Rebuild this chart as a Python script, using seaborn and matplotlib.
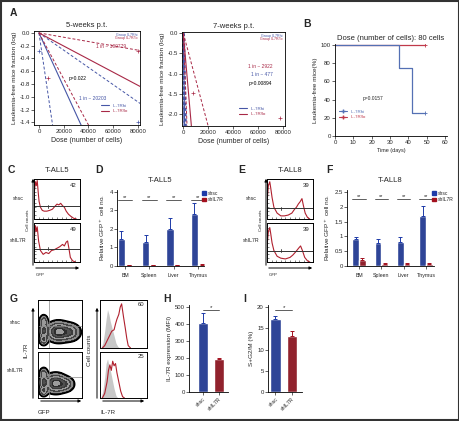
import numpy as np
import pandas as pd
import seaborn as sns
import matplotlib.pyplot as plt
from matplotlib.patches import Rectangle, FancyArrowPatch
from matplotlib.lines import Line2D
from matplotlib.patches import Patch

sns.set_theme(style="ticks")
plt.rcParams['font.family'] = ['Liberation Sans', 'DejaVu Sans']

# ---------------- data ----------------
# A: ELDA lines, end points (dose, log fraction) for estimate / CI-low / CI-high
a5_hi_dose = [34000, 11000, 80000]
a5_hi_log = [-1.44, -1.44, -1.08]
a5_lo_dose = [80000, 40000, 80000]
a5_lo_log = [-0.82, -1.44, -0.27]
a5_hi_pts_dose = [0, 80000]
a5_hi_pts_log = [-0.29, -1.40]
a5_lo_pts_dose = [7000, 80000]
a5_lo_pts_log = [-0.70, -0.29]

a7_hi_dose = [1100, 400, 1500]
a7_hi_log = [-2.29, -2.29, -2.29]
a7_lo_dose = [6500, 3000, 20000]
a7_lo_log = [-2.29, -2.29, -2.29]
a7_lo_pts_dose = [7600, 78000]
a7_lo_pts_log = [-1.48, -2.10]

# B: survival
b_hi_days = [0, 35, 35, 42, 42, 49]
b_hi_pct = [100, 100, 75, 75, 25, 25]
b_lo_days = [0, 49]
b_lo_pct = [100, 100]

# D / F: relative GFP+ cell number
tissues = ["BM", "Spleen", "Liver", "Thymus"]
d_shsc = [1.45, 1.30, 2.00, 2.80]
d_shsc_err = [0.42, 0.35, 0.57, 0.60]
d_shil = [0.04, 0.03, 0.03, 0.08]
d_shil_err = [0.01, 0.01, 0.01, 0.02]
f_shsc = [0.92, 0.77, 0.82, 1.70]
f_shsc_err = [0.07, 0.13, 0.15, 0.33]
f_shil = [0.20, 0.08, 0.08, 0.08]
f_shil_err = [0.08, 0.03, 0.01, 0.02]

# H / I
conds = ["shsc", "shIL7R"]
h_vals = [408, 195]
h_err = [58, 8]
i_vals = [17.1, 13.1]
i_err = [0.9, 1.2]

# flow histograms (fraction of box)
c_top_x = [0.0, 0.03, 0.05, 0.07, 0.09, 0.11, 0.14, 0.18, 0.22, 0.28, 0.34, 0.40, 0.46, 0.50, 0.54, 0.58, 0.62, 0.66, 0.70, 0.75, 0.80, 0.86, 0.92]
c_top_y = [0.60, 0.95, 0.85, 0.98, 0.70, 0.45, 0.30, 0.22, 0.20, 0.20, 0.22, 0.25, 0.33, 0.38, 0.36, 0.40, 0.34, 0.30, 0.20, 0.12, 0.07, 0.02, 0.0]
c_bot_x = [0.0, 0.03, 0.05, 0.07, 0.10, 0.14, 0.20, 0.26, 0.32, 0.38, 0.44, 0.50, 0.56, 0.62, 0.66, 0.70, 0.73, 0.76, 0.79, 0.84, 0.90]
c_bot_y = [0.55, 0.95, 0.80, 0.92, 0.55, 0.30, 0.20, 0.25, 0.22, 0.30, 0.32, 0.36, 0.40, 0.46, 0.42, 0.52, 0.55, 0.35, 0.12, 0.03, 0.0]
e_top_x = [0.0, 0.03, 0.06, 0.08, 0.11, 0.15, 0.22, 0.30, 0.38, 0.46, 0.54, 0.60, 0.64, 0.68, 0.72, 0.76, 0.79, 0.83, 0.88, 0.93]
e_top_y = [0.40, 0.85, 0.95, 0.80, 0.55, 0.30, 0.15, 0.08, 0.08, 0.10, 0.15, 0.25, 0.30, 0.38, 0.44, 0.52, 0.35, 0.15, 0.04, 0.0]
e_bot_x = [0.0, 0.03, 0.06, 0.08, 0.11, 0.15, 0.22, 0.30, 0.40, 0.50, 0.56, 0.62, 0.66, 0.70, 0.73, 0.77, 0.82, 0.88, 0.93]
e_bot_y = [0.40, 0.80, 0.90, 0.75, 0.50, 0.30, 0.15, 0.10, 0.08, 0.12, 0.18, 0.26, 0.32, 0.38, 0.42, 0.30, 0.12, 0.03, 0.0]
g_top_iso_x = [0.02, 0.06, 0.10, 0.13, 0.16, 0.19, 0.22, 0.26, 0.30, 0.34, 0.38, 0.42]
g_top_iso_y = [0.0, 0.10, 0.35, 0.60, 0.80, 0.70, 0.55, 0.40, 0.25, 0.10, 0.03, 0.0]
g_top_x = [0.05, 0.10, 0.15, 0.20, 0.25, 0.30, 0.33, 0.36, 0.40, 0.43, 0.46, 0.50, 0.54, 0.57, 0.60, 0.65]
g_top_y = [0.0, 0.05, 0.15, 0.25, 0.35, 0.38, 0.50, 0.60, 0.70, 0.85, 0.92, 0.65, 0.40, 0.20, 0.05, 0.0]
g_bot_iso_x = [0.02, 0.06, 0.10, 0.13, 0.16, 0.19, 0.22, 0.26, 0.30, 0.34, 0.38]
g_bot_iso_y = [0.0, 0.15, 0.45, 0.75, 0.85, 0.70, 0.60, 0.40, 0.20, 0.05, 0.0]
g_bot_x = [0.05, 0.10, 0.15, 0.18, 0.21, 0.24, 0.27, 0.30, 0.33, 0.36, 0.40, 0.44, 0.48, 0.52]
g_bot_y = [0.0, 0.10, 0.35, 0.60, 0.72, 0.60, 0.80, 0.70, 0.75, 0.55, 0.35, 0.15, 0.03, 0.0]

# G contour blobs: (cx, cy, sx, sy, weight)
g_top_blobs = [(0.46, 0.34, 0.13, 0.10, 1.0), (0.72, 0.33, 0.12, 0.09, 0.55),
               (0.13, 0.18, 0.05, 0.06, 0.5), (0.13, 0.36, 0.05, 0.07, 0.6), (0.13, 0.55, 0.05, 0.07, 0.4)]
g_bot_blobs = [(0.40, 0.32, 0.12, 0.10, 1.0), (0.62, 0.30, 0.10, 0.08, 0.45),
               (0.13, 0.16, 0.05, 0.06, 0.5), (0.13, 0.34, 0.05, 0.07, 0.6), (0.13, 0.52, 0.05, 0.07, 0.4)]

BLUE = "#4656a6"
RED = "#a82846"
B_BLUE = "#5470b4"
B_RED = "#c0394a"
BAR_BLUE = "#1d3aa8"
BAR_RED = "#a3101e"
HIST_RED = "#b0202e"

W, H = 460, 421
fig = plt.figure(figsize=(4.6, 4.21), dpi=100)


def box(l, t, r, b):
    return fig.add_axes([l / W, 1 - b / H, (r - l) / W, (b - t) / H])


def ftext(x, y, s, **kw):
    fig.text(x / W, 1 - y / H, s, **kw)


def arrow(x0, y0, x1, y1):
    fig.add_artist(FancyArrowPatch((x0 / W, 1 - y0 / H), (x1 / W, 1 - y1 / H),
                                   transform=fig.transFigure, arrowstyle='-|>',
                                   mutation_scale=4, lw=0.7, color='black'))


def style(ax, full=False):
    ax.tick_params(labelsize=4.3, length=2, width=0.5, pad=1)
    for s in ax.spines.values():
        s.set_linewidth(0.6)
        s.set_color('black')
    if not full:
        sns.despine(ax=ax)


def elda(ax, doses, logs, color):
    xs = np.array([0, 90000])
    for k, (d, v) in enumerate(zip(doses, logs)):
        ax.plot(xs, xs * v / d, color=color, lw=0.8 if k == 0 else 0.7,
                ls='-' if k == 0 else (0, (3, 2)))


# frame
fig.add_artist(Rectangle((0.002, 0.002), 0.996, 0.996, transform=fig.transFigure,
                         fill=False, lw=1.5, ec='#333333'))

# ---------------- A ----------------
ftext(10, 13, "A", fontsize=7.5, weight='bold', va='center')
ax = box(34, 31, 140, 125)
elda(ax, a5_hi_dose, a5_hi_log, BLUE)
elda(ax, a5_lo_dose, a5_lo_log, RED)
ax.plot(a5_hi_pts_dose, a5_hi_pts_log, ls='none', marker='+', ms=2.5, color=BLUE, mew=0.5)
ax.plot(a5_lo_pts_dose, a5_lo_pts_log, ls='none', marker='+', ms=2.5, color=RED, mew=0.5)
ax.set_xlim(-4000, 81600)
ax.set_ylim(-1.44, 0.03)
ax.set_xticks([0, 20000, 40000, 60000, 80000])
yt = np.round(np.arange(0, -1.41, -0.2), 1)
ax.set_yticks(yt)
ax.set_yticklabels([f"{v:.1f}" for v in yt])
style(ax, full=True)
ax.set_title("5-weeks p.t.", fontsize=5.5, pad=3)
ax.set_xlabel("Dose (number of cells)", fontsize=5, labelpad=2)
ax.set_ylabel("Leukemia-free mice fraction (log)", fontsize=4.6, labelpad=2)
ax.text(0.98, 0.98, "Group IL7Rhi", color=BLUE, fontsize=2.6, ha='right', va='top', transform=ax.transAxes)
ax.text(0.98, 0.945, "Group IL7R/lo", color=RED, fontsize=2.6, ha='right', va='top', transform=ax.transAxes)
ax.text(58000, -0.21, "1 in ~ 100779", color=RED, fontsize=3.5, ha='center', va='center')
ax.text(31500, -0.72, "p=0.022", color='black', fontsize=3.5, ha='center', va='center')
ax.text(43000, -1.03, "1 in ~ 20203", color=BLUE, fontsize=3.5, ha='center', va='center')
ax.legend(handles=[Line2D([], [], color=BLUE, lw=0.8, label="IL-7Rhi"),
                   Line2D([], [], color=RED, lw=0.8, label="IL-7R/lo")],
          loc='lower right', bbox_to_anchor=(0.92, 0.08), fontsize=3.2, frameon=False,
          handlelength=1.8, labelspacing=0.3, labelcolor=[BLUE, RED])

ax = box(182, 32, 285, 126)
elda(ax, a7_hi_dose[:2], a7_hi_log[:2], BLUE)
ax.plot([0, a7_hi_dose[2]], [0, a7_hi_log[2]], color=BLUE, lw=2.4, ls=(0, (0.9, 0.7)))
elda(ax, a7_lo_dose, a7_lo_log, RED)
ax.plot(a7_lo_pts_dose, a7_lo_pts_log, ls='none', marker='+', ms=2.5, color=RED, mew=0.5)
ax.set_xlim(-1050, 81850)
ax.set_ylim(-2.29, 0.03)
ax.set_xticks([0, 20000, 40000, 60000, 80000])
ax.set_yticks([0, -0.5, -1, -1.5, -2])
ax.set_yticklabels(["0.0", "-0.5", "-1.0", "-1.5", "-2.0"])
style(ax, full=True)
ax.set_title("7-weeks p.t.", fontsize=5.5, pad=3)
ax.set_xlabel("Dose (number of cells)", fontsize=5, labelpad=2)
ax.set_ylabel("Leukemia-free mice fraction (log)", fontsize=4.6, labelpad=2)
ax.text(0.98, 0.98, "Group IL7Rhi", color=BLUE, fontsize=2.6, ha='right', va='top', transform=ax.transAxes)
ax.text(0.98, 0.945, "Group IL7R/lo", color=RED, fontsize=2.6, ha='right', va='top', transform=ax.transAxes)
ax.text(62000, -0.82, "1 in ~ 2922", color=RED, fontsize=3.5, ha='center', va='center')
ax.text(63000, -1.03, "1 in ~ 477", color=BLUE, fontsize=3.5, ha='center', va='center')
ax.text(62000, -1.23, "p=0.00894", color='black', fontsize=3.5, ha='center', va='center')
ax.legend(handles=[Line2D([], [], color=BLUE, lw=0.8, label="IL-7Rhi"),
                   Line2D([], [], color=RED, lw=0.8, label="IL-7R/lo")],
          loc='lower right', bbox_to_anchor=(0.85, 0.06), fontsize=3.2, frameon=False,
          handlelength=1.8, labelspacing=0.3, labelcolor=[BLUE, RED])

# ---------------- B ----------------
ftext(303, 24, "B", fontsize=7.5, weight='bold', va='center')
ax = box(335, 44, 447, 136)
sns.lineplot(x=b_lo_days, y=b_lo_pct, ax=ax, color=B_RED, lw=0.9, estimator=None, sort=False)
sns.lineplot(x=b_hi_days, y=b_hi_pct, ax=ax, color=B_BLUE, lw=0.9, estimator=None, sort=False)
ax.plot(b_hi_days[-1:], b_hi_pct[-1:], marker='+', ms=2.5, mew=0.6, color=B_BLUE)
ax.plot(b_lo_days[-1:], b_lo_pct[-1:], marker='+', ms=2.5, mew=0.6, color=B_RED)
ax.set_xlim(0, 61)
ax.set_ylim(0, 101)
ax.set_xticks(range(0, 61, 10))
ax.set_yticks(range(0, 101, 20))
style(ax)
ax.set_title("Dose (number of cells): 80 cells", fontsize=5.5, pad=3)
ax.set_xlabel("Time (days)", fontsize=4, labelpad=2)
ax.set_ylabel("Leukemia-free mice(%)", fontsize=4.6, labelpad=2)
ax.text(15, 41, "p=0.0157", fontsize=3.5, va='center')
ax.legend(handles=[Line2D([], [], color=B_BLUE, lw=0.8, marker='+', ms=2.5, label="IL-7Rhi"),
                   Line2D([], [], color=B_RED, lw=0.8, marker='+', ms=2.5, label="IL-7R/lo")],
          loc='lower left', bbox_to_anchor=(0.0, 0.14), fontsize=3.2, frameon=False,
          handlelength=1.8, labelspacing=0.3, labelcolor=[B_BLUE, B_RED])


# ---------------- histograms C / E ----------------
def hist_box(l, t, r, b, xs, ys, gate, num):
    a = box(l, t, r, b)
    a.plot(xs, ys, color=HIST_RED, lw=0.8)
    a.axhline(gate, color='#333333', lw=0.7)
    a.plot([0.3, 0.3], [gate - 0.04, gate + 0.04], color='#333333', lw=0.6)
    a.set_xlim(0, 1)
    a.set_ylim(0, 1.02)
    a.set_xticks(np.linspace(0.1, 0.9, 9))
    a.set_yticks(np.linspace(0.1, 0.9, 9))
    a.tick_params(direction='in', length=1.2, width=0.4, labelbottom=False, labelleft=False)
    for s in a.spines.values():
        s.set_linewidth(0.7)
        s.set_color('black')
    a.text(0.93, 0.9, num, fontsize=4.3, ha='right', va='top', transform=a.transAxes)
    return a


for (x0, lab, title, tops, bots, letter_x, name2) in [
        (34, "C", "T-ALL5", (c_top_x, c_top_y, 0.32, "42"), (c_bot_x, c_bot_y, 0.35, "49"), 8, "shIL7R"),
        (267, "E", "T-ALL8", (e_top_x, e_top_y, 0.27, "39"), (e_bot_x, e_bot_y, 0.30, "39"), 238, "shIL7R")]:
    ftext(letter_x, 170, lab, fontsize=7.5, weight='bold', va='center')
    ftext(x0 + 23, 170, title, fontsize=5.5, ha='center', va='center')
    hist_box(x0, 179, x0 + 46, 219, *tops)
    hist_box(x0, 223, x0 + 46, 262, *bots)
    arrow(x0 - 1, 268, x0 - 1, 176)
    arrow(x0 - 1, 268, x0 + 48, 268)
    ftext(x0 - 6, 220, "Cell counts", fontsize=3.2, rotation=90, ha='center', va='center')
    ftext(x0 + 2, 275, "GFP", fontsize=3.2, va='center')
    ftext(x0 - 16, 198, "shsc", fontsize=3.8, ha='center', va='center')
    ftext(x0 - 16, 240, name2, fontsize=3.8, ha='center', va='center')


# ---------------- bars D / F ----------------
def add_err(ax, xs, ys, es, color):
    ax.errorbar(xs, ys, yerr=[np.zeros(len(es)), es], fmt='none', ecolor=color,
                elinewidth=0.7, capsize=1.5, capthick=0.7)


def group_bars(rect, title, shsc, shsc_err, shil, shil_err, ylim, yticks, ylabels, sig_y, xlim, letter):
    ax = box(*rect)
    df = pd.DataFrame({"tissue": tissues * 2,
                       "group": ["shsc"] * 4 + ["shIL7R"] * 4,
                       "value": shsc + shil})
    sns.barplot(data=df, x="tissue", y="value", hue="group", ax=ax,
                palette=[BAR_BLUE, BAR_RED], width=0.6, gap=0, errorbar=None, legend=False)
    pts = ax.patches
    xb = [p.get_x() + p.get_width() / 2 for p in pts[:4]]
    xr = [p.get_x() + p.get_width() / 2 for p in pts[4:8]]
    add_err(ax, xb, shsc, shsc_err, BAR_BLUE)
    add_err(ax, xr, shil, shil_err, BAR_RED)
    for k in range(4):
        ax.plot([k - 0.3, k + 0.3], [sig_y, sig_y], color='#444444', lw=0.6)
        ax.text(k, sig_y, "**", fontsize=4, ha='center', va='bottom')
    ax.set_ylim(*ylim)
    ax.set_xlim(*xlim)
    ax.set_yticks(yticks)
    ax.set_yticklabels(ylabels)
    style(ax)
    ax.set_xlabel("")
    ax.set_xticklabels(tissues, fontsize=3.8)
    ax.tick_params(axis='x', pad=3)
    ax.set_ylabel("Relative GFP$^+$ cell no.", fontsize=4.6, labelpad=2)
    ax.set_title(title, fontsize=5.5, pad=6)
    ax.legend(handles=[Patch(color=BAR_BLUE, label="shsc"), Patch(color=BAR_RED, label="shIL7R")],
              loc='upper left', bbox_to_anchor=(0.93, 1.05), fontsize=3.6, frameon=False,
              handlelength=0.7, handleheight=0.7, handletextpad=0.4, labelspacing=0.3)
    ftext(letter[1], 170, letter[0], fontsize=7.5, weight='bold', va='center')
    return ax


group_bars((117, 190, 204, 266), "T-ALL5", d_shsc, d_shsc_err, d_shil, d_shil_err,
           (0, 4.1), [0, 1, 2, 3, 4], ["0", "1", "2", "3", "4"], 3.55, (-0.33, 3.25), ("D", 95))
group_bars((347, 190, 434, 266), "T-ALL8", f_shsc, f_shsc_err, f_shil, f_shil_err,
           (0, 2.57), [0, 0.5, 1, 1.5, 2, 2.5], ["0", "0.5", "1", "1.5", "2", "2.5"], 2.28,
           (-0.54, 3.36), ("F", 326))

# ---------------- G ----------------
ftext(10, 299, "G", fontsize=7.5, weight='bold', va='center')
gx, gy = np.meshgrid(np.linspace(0, 1, 160), np.linspace(0, 1, 160))


def contour_box(l, t, r, b, blobs):
    a = box(l, t, r, b)
    z = np.zeros_like(gx)
    for cx, cy, sx, sy, w in blobs:
        z += w * np.exp(-((gx - cx) ** 2 / (2 * sx ** 2) + (gy - cy) ** 2 / (2 * sy ** 2)))
    lv = [0.05, 0.12, 0.22, 0.35, 0.5, 0.65, 0.8, 0.95, 1.1, 5]
    fills = ['#3a3a3a', '#8a8a8a', '#454545', '#9a9a9a', '#3c3c3c', '#505050',
             '#2e2e2e', '#9c9c9c', '#ffffff']
    a.contourf(gx, gy, z, levels=lv, colors=fills)
    a.contour(gx, gy, z, levels=lv[:1], colors='black', linewidths=1.3)
    a.axvline(0.24, color='#888888', lw=0.5)
    a.axhline(0.45, color='#888888', lw=0.5)
    a.set_xlim(0, 1)
    a.set_ylim(0, 1)
    a.set_xticks([])
    a.set_yticks([])
    for s in a.spines.values():
        s.set_linewidth(0.7)
        s.set_color('black')


contour_box(38, 300, 82, 348, g_top_blobs)
contour_box(38, 352, 82, 398, g_bot_blobs)
arrow(33, 401, 33, 305)
arrow(38, 401, 84, 401)
ftext(26, 350, "IL-7R", fontsize=4.6, rotation=90, ha='center', va='center')
ftext(38, 412, "GFP", fontsize=4.4, va='center')
ftext(15, 323, "shsc", fontsize=3.8, ha='center', va='center')
ftext(15, 370, "shIL7R", fontsize=3.8, ha='center', va='center')


def iso_box(l, t, r, b, ix, iy, xs, ys, num):
    a = box(l, t, r, b)
    a.fill_between(ix, iy, color='#c8c8c8', lw=0)
    a.plot(xs, ys, color=HIST_RED, lw=0.8)
    a.set_xlim(0, 1)
    a.set_ylim(0, 1)
    a.set_xticks([])
    a.set_yticks([])
    for s in a.spines.values():
        s.set_linewidth(0.7)
        s.set_color('black')
    a.text(0.95, 0.95, num, fontsize=4.3, ha='right', va='top', transform=a.transAxes)


iso_box(100, 300, 147, 348, g_top_iso_x, g_top_iso_y, g_top_x, g_top_y, "60")
iso_box(100, 352, 147, 398, g_bot_iso_x, g_bot_iso_y, g_bot_x, g_bot_y, "25")
arrow(97, 401, 97, 305)
arrow(100, 401, 147, 401)
ftext(90, 350, "Cell counts", fontsize=4.6, rotation=90, ha='center', va='center')
ftext(100, 412, "IL-7R", fontsize=4.4, va='center')


# ---------------- H / I ----------------
def pair_bars(rect, vals, errs, ylim, yticks, sig_y, star, xlim, ylabel, letter):
    ax = box(*rect)
    sns.barplot(x=conds, y=vals, hue=conds, palette=[BAR_BLUE, BAR_RED], ax=ax,
                width=0.65, errorbar=None, legend=False)
    xs = [p.get_x() + p.get_width() / 2 for p in ax.patches[:2]]
    add_err(ax, xs[:1], vals[:1], errs[:1], BAR_BLUE)
    add_err(ax, xs[1:], vals[1:], errs[1:], BAR_RED)
    ax.plot([0, 1], [sig_y, sig_y], color='#444444', lw=0.6)
    ax.text(0.5, sig_y, star, fontsize=4.5, ha='center', va='bottom')
    ax.set_ylim(*ylim)
    ax.set_xlim(*xlim)
    ax.set_yticks(yticks)
    style(ax)
    ax.set_xticks([0, 1])
    ax.set_xticklabels(conds, rotation=45, ha='right', rotation_mode='anchor', fontsize=3.8)
    ax.set_ylabel(ylabel, fontsize=4.6, labelpad=2)
    ftext(letter[1], 299, letter[0], fontsize=7.5, weight='bold', va='center')


pair_bars((189, 305, 228, 392), h_vals, h_err, (0, 512), [0, 100, 200, 300, 400, 500], 482, "*",
          (-0.9, 1.6), "IL-7R expression (MFI)", ("H", 163))
pair_bars((268, 305, 302, 392), i_vals, i_err, (0, 20.5), [0, 5, 10, 15, 20], 19.3, "*",
          (-0.45, 1.6), "S+G2/M (%)", ("I", 243))

fig.savefig("out.png", dpi=100)
